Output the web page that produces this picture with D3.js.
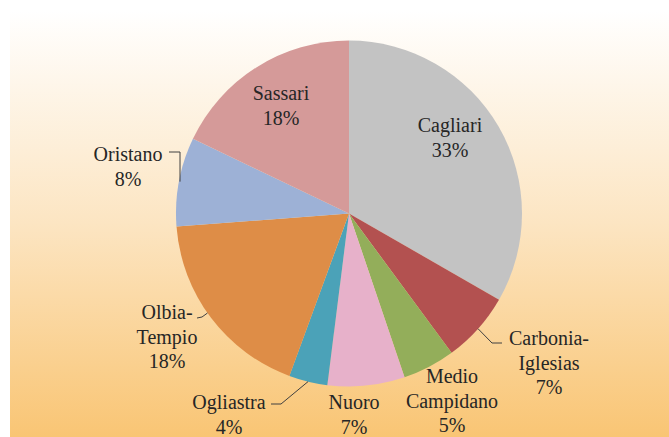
<!DOCTYPE html>
<html><head><meta charset="utf-8">
<script src="https://cdn.jsdelivr.net/npm/d3@7"></script>
<style>html,body{margin:0;padding:0;background:#fff;}svg{display:block;}
text{font-family:"Liberation Serif","DejaVu Serif",serif;}</style>
</head><body>
<svg id="chart" width="669" height="437"></svg>
<script>
const categories = ["Cagliari","Carbonia-Iglesias","Medio Campidano","Nuoro","Ogliastra","Olbia-Tempio","Oristano","Sassari"];
const values = [33.3, 6.6, 4.9, 7.2, 3.6, 18.2, 8.3, 17.9];
const labels = ["33%","7%","5%","7%","4%","18%","8%","18%"];
const colors = ["#C3C3C3","#B35150","#93AE5A","#E7B1CA","#4BA2B8","#DE8D47","#9DB1D6","#D59A99"];
const labelLines = [["Cagliari"],["Carbonia-","Iglesias"],["Medio","Campidano"],["Nuoro"],["Ogliastra"],["Olbia-","Tempio"],["Oristano"],["Sassari"]];
const labelPos = [[450,132],[549,345],[452,383],[354,409],[229,409],[167,319],[128,161],[281,100]];

const svg = d3.select("#chart");
const W = 669, H = 437;
const defs = svg.append("defs");
const grad = defs.append("linearGradient").attr("id","bg").attr("x1",0).attr("y1",0).attr("x2",0).attr("y2",1);
grad.append("stop").attr("offset","0%").attr("stop-color","#FFFFFF");
grad.append("stop").attr("offset","50%").attr("stop-color","#FCE5C2");
grad.append("stop").attr("offset","100%").attr("stop-color","#F9C574");
svg.append("rect").attr("x",10).attr("y",10).attr("width",W-10).attr("height",H-10).attr("fill","url(#bg)");

const cx = 349, cy = 213.5, R = 173;
const pie = d3.pie().sort(null).value(d => d);
const arcs = pie(values);
const arc = d3.arc().innerRadius(0).outerRadius(R);
const g = svg.append("g").attr("transform",`translate(${cx},${cy})`);
g.selectAll("path").data(arcs).join("path")
  .attr("d", arc).attr("fill", (d,i) => colors[i]);

const edge = (d, frac) => {
  const a = d.startAngle + (d.endAngle - d.startAngle) * frac;
  return [cx + R*Math.sin(a), cy - R*Math.cos(a)];
};
const leaders = [
  {i:1, frac:0.5, pts:[[502,343],[492,343]]},
  {i:4, frac:0.5, pts:[[271,404],[281,404]]},
  {i:5, frac:0.53, pts:[[197,318],[202,317]]},
  {i:6, frac:0.5, pts:[[169,152],[180,152]]}
];
leaders.forEach(L => {
  const e = edge(arcs[L.i], L.frac);
  let pts;
  if (L.i === 6) pts = [L.pts[0], L.pts[1], [L.pts[1][0], e[1]]];
  else pts = [L.pts[0], L.pts[1], e];
  svg.append("path").attr("d", d3.line()(pts)).attr("fill","none")
    .attr("stroke","#404040").attr("stroke-width",1);
});

categories.forEach((c,i) => {
  const [x,y] = labelPos[i];
  const t = svg.append("text").attr("text-anchor","middle")
    .attr("font-size",20).attr("fill","#262626");
  const lines = labelLines[i].concat([labels[i]]);
  lines.forEach((ln,k) => {
    t.append("tspan").attr("x",x).attr("y", y + k*24.5).text(ln);
  });
});
</script>
</body></html>
